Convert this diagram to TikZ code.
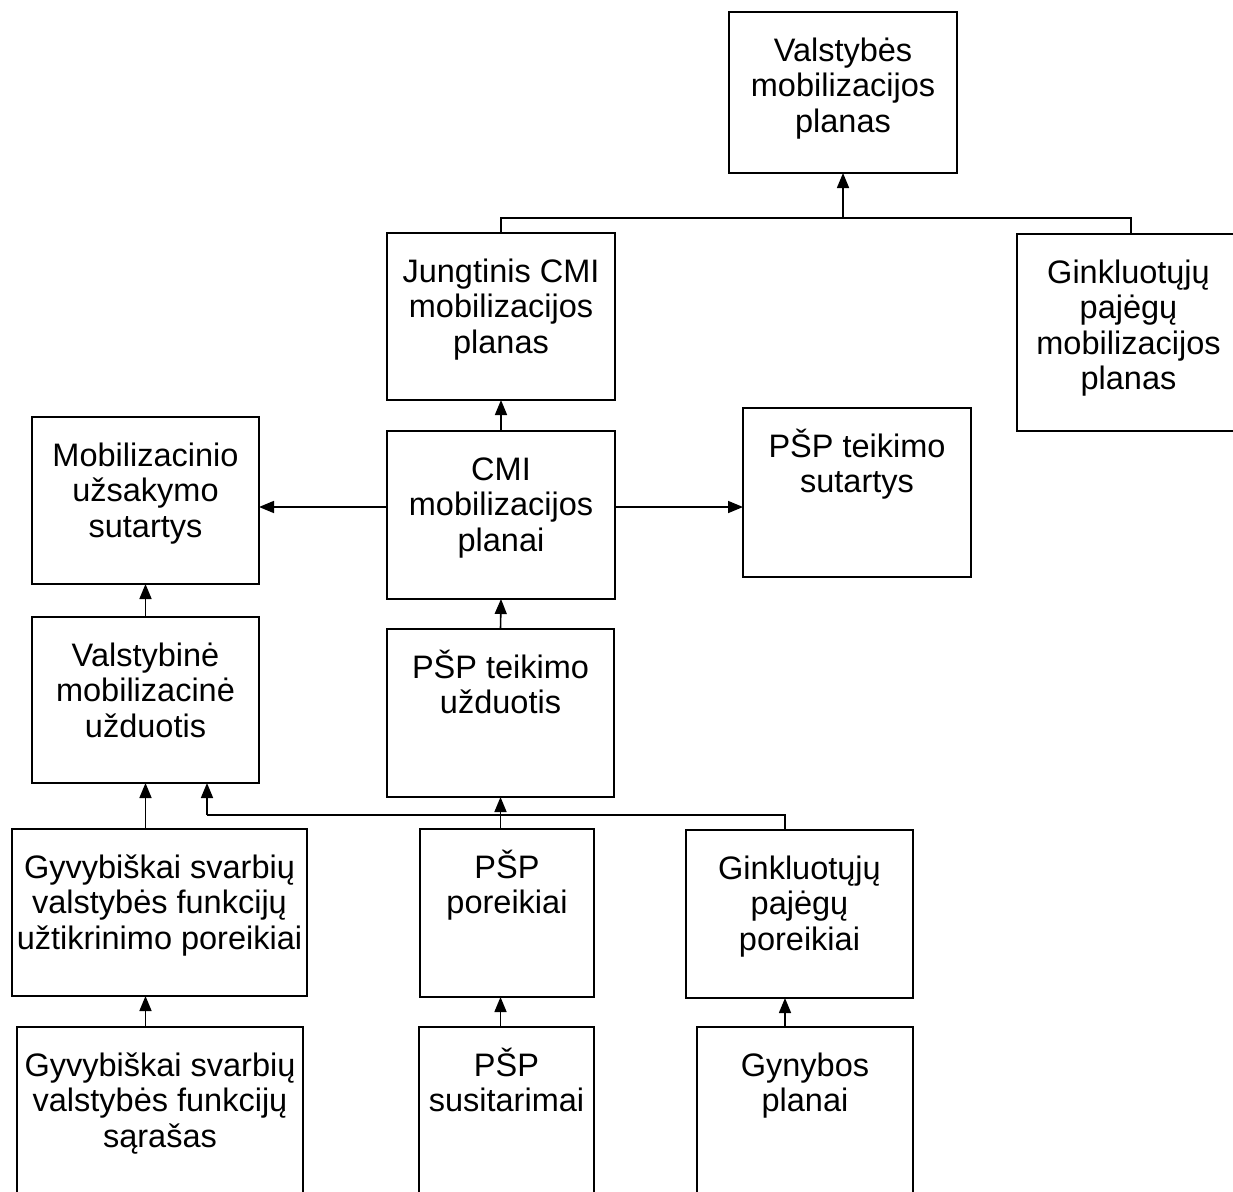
\documentclass[tikz,border=0pt]{standalone}
\usepackage{fontspec}
\setmainfont{Liberation Sans}
\usetikzlibrary{arrows.meta}
\tikzset{
  bx/.style={draw=black, line width=2pt, inner sep=0pt, outer sep=0pt, fill=white},
  ln/.style={draw=black, line width=1.6pt},
  arr/.style={ln, -{Triangle[length=15pt,width=12pt]}}
}
\newcommand\mybox[6]{%
  \pgfmathsetlengthmacro\bw{(#4-#2)*1pt}%
  \pgfmathsetlengthmacro\bh{(#5-#3)*1pt}%
  \node[bx] (#1) at ({(#2+#4)/2},{(#3+#5)/2})
    {\parbox[c][\bh][t]{\bw}{\centering\rule{0pt}{49pt}#6}};}
\begin{document}
\begin{tikzpicture}[x=1pt,y=-1pt,font=\fontsize{32.5}{35.5}\selectfont]
\useasboundingbox[fill=white] (0,0) rectangle (1233,1191);
\mybox{V}{729}{12}{957}{173}{Valstybės\\mobilizacijos\\planas}
\mybox{J}{387}{233}{615}{400}{Jungtinis CMI\\mobilizacijos\\planas}
\mybox{G}{1017}{234}{1240}{431}{Ginkluotųjų\\pajėgų\\mobilizacijos\\planas}
\mybox{CMI}{387}{431}{615}{599}{CMI\\mobilizacijos\\planai}
\mybox{PS}{743}{408}{971}{577}{PŠP teikimo\\sutartys}
\mybox{M}{32}{417}{259}{584}{Mobilizacinio\\užsakymo\\sutartys}
\mybox{VMU}{32}{617}{259}{783}{Valstybinė\\mobilizacinė\\užduotis}
\mybox{PU}{387}{629}{614}{797}{PŠP teikimo\\užduotis}
\mybox{GY}{12}{829}{307}{996}{Gyvybiškai svarbių\\valstybės funkcijų\\užtikrinimo poreikiai}
\mybox{PP}{420}{829}{594}{997}{PŠP\\poreikiai}
\mybox{GP}{686}{830}{913}{998}{Ginkluotųjų\\pajėgų\\poreikiai}
\mybox{GS}{17}{1027}{303}{1200}{Gyvybiškai svarbių\\valstybės funkcijų\\sąrašas}
\mybox{PSU}{419}{1027}{594}{1200}{PŠP\\susitarimai}
\mybox{GN}{697}{1027}{913}{1200}{Gynybos\\planai}
% upper bus
\coordinate (b1L) at (501,218);
\coordinate (b1R) at (1131,218);
\draw[ln] (J.north) |- (b1R) -- (b1R |- G.north);
\draw[arr] (V.south |- b1L) -- (V.south);
% CMI connections
\coordinate (yA) at (0,507);
\draw[arr] (CMI.north) -- (J.south);
\draw[arr] (CMI.west |- yA) -- (M.east |- yA);
\draw[arr] (CMI.east |- yA) -- (PS.west |- yA);
\draw[arr] (PU.north) -- (CMI.south);
\draw[arr] (VMU.north) -- (M.south);
% lower bus
\coordinate (b2L) at (207,815);
\coordinate (b2R) at (785,815);
\draw[arr] (VMU.south |- GY.north) -- (VMU.south);
\draw[ln] (b2R |- GP.north) -- (b2R) -- (b2L);
\draw[arr] (b2L) -- (b2L |- VMU.south);
\draw[ln] (PU.south |- PP.north) -- (PU.south |- b2L);
\draw[arr] (PU.south |- b2L) -- (PU.south);
% bottom row
\draw[arr] (VMU.south |- GS.north) -- (VMU.south |- GY.south);
\draw[arr] (PU.south |- PSU.north) -- (PU.south |- PP.south);
\draw[arr] (b2R |- GN.north) -- (b2R |- GP.south);
\end{tikzpicture}
\end{document}
